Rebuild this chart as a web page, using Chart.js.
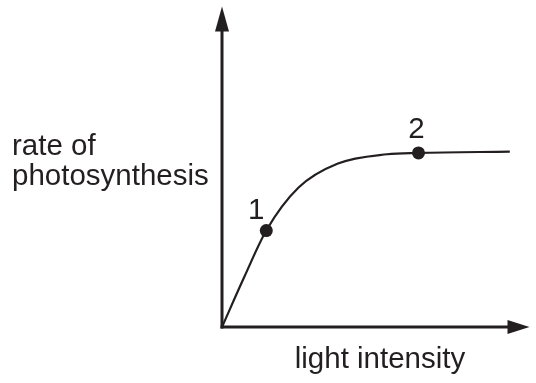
<!DOCTYPE html>
<html>
<head>
<meta charset="utf-8">
<script src="https://cdn.jsdelivr.net/npm/chart.js@4"></script>
<style>
  body { margin: 0; background: #fff; }
</style>
</head>
<body>
<canvas id="chart" width="536" height="383"></canvas>
<script>
// curve (arbitrary units, 0-10 on both axes)
const curveX = [0, 0.72, 1.44, 2.49, 3.77, 5.37, 6.39, 9.36];
const curveY = [0, 1.55, 3.01, 4.35, 5.10, 5.39, 5.43, 5.47];

// marked points
const markLabels = ["1", "2"];
const markX = [1.44, 6.39];
const markY = [3.01, 5.43];

const xTitle = "light intensity";
const yTitle = ["rate of", "photosynthesis"];

const ink = "#231f20";
const font = '29.5px "Liberation Sans", Arial, sans-serif';

// axes with arrow heads + texts
const sketch = {
  id: "sketch",
  afterDatasetsDraw(chart) {
    let ctx = chart.ctx;
    let a = chart.chartArea;
    ctx.save();
    ctx.strokeStyle = ink;
    ctx.fillStyle = ink;
    ctx.lineWidth = 3;

    // y axis
    ctx.beginPath();
    ctx.moveTo(a.left, a.bottom + 1.5);
    ctx.lineTo(a.left, a.top + 20);
    ctx.stroke();
    ctx.beginPath();
    ctx.moveTo(a.left, a.top);
    ctx.lineTo(a.left - 7, a.top + 25);
    ctx.lineTo(a.left + 7, a.top + 25);
    ctx.closePath();
    ctx.fill();

    // x axis
    ctx.beginPath();
    ctx.moveTo(a.left - 1.5, a.bottom);
    ctx.lineTo(a.right - 20, a.bottom);
    ctx.stroke();
    ctx.beginPath();
    ctx.moveTo(a.right, a.bottom);
    ctx.lineTo(a.right - 22, a.bottom - 7);
    ctx.lineTo(a.right - 22, a.bottom + 7);
    ctx.closePath();
    ctx.fill();

    ctx.font = font;
    ctx.textBaseline = "alphabetic";

    // point numbers
    ctx.textAlign = "center";
    let meta = chart.getDatasetMeta(1);
    let offs = [[-10, -12], [-2, -15]];
    meta.data.forEach((pt, i) => {
      ctx.fillText(markLabels[i], pt.x + offs[i][0], pt.y + offs[i][1]);
    });

    // axis titles
    ctx.fillText(xTitle, 380, 368);
    ctx.textAlign = "left";
    ctx.fillText(yTitle[0], 12, 155);
    ctx.fillText(yTitle[1], 12, 185);
    ctx.restore();
  }
};

new Chart(document.getElementById("chart"), {
  type: "scatter",
  data: {
    datasets: [
      {
        data: curveX.map((x, i) => ({ x: x, y: curveY[i] })),
        showLine: true,
        borderColor: ink,
        borderWidth: 2.2,
        pointRadius: 0,
        cubicInterpolationMode: "monotone",
        fill: false
      },
      {
        data: markX.map((x, i) => ({ x: x, y: markY[i] })),
        showLine: false,
        pointRadius: 6.5,
        pointBackgroundColor: ink,
        pointBorderWidth: 0
      }
    ]
  },
  options: {
    responsive: false,
    animation: false,
    layout: { padding: { left: 222, right: 1, top: 5, bottom: 56 } },
    plugins: {
      legend: { display: false },
      tooltip: { enabled: false }
    },
    scales: {
      x: { type: "linear", min: 0, max: 10, display: false },
      y: { type: "linear", min: 0, max: 10, display: false }
    }
  },
  plugins: [sketch]
});
</script>
</body>
</html>
